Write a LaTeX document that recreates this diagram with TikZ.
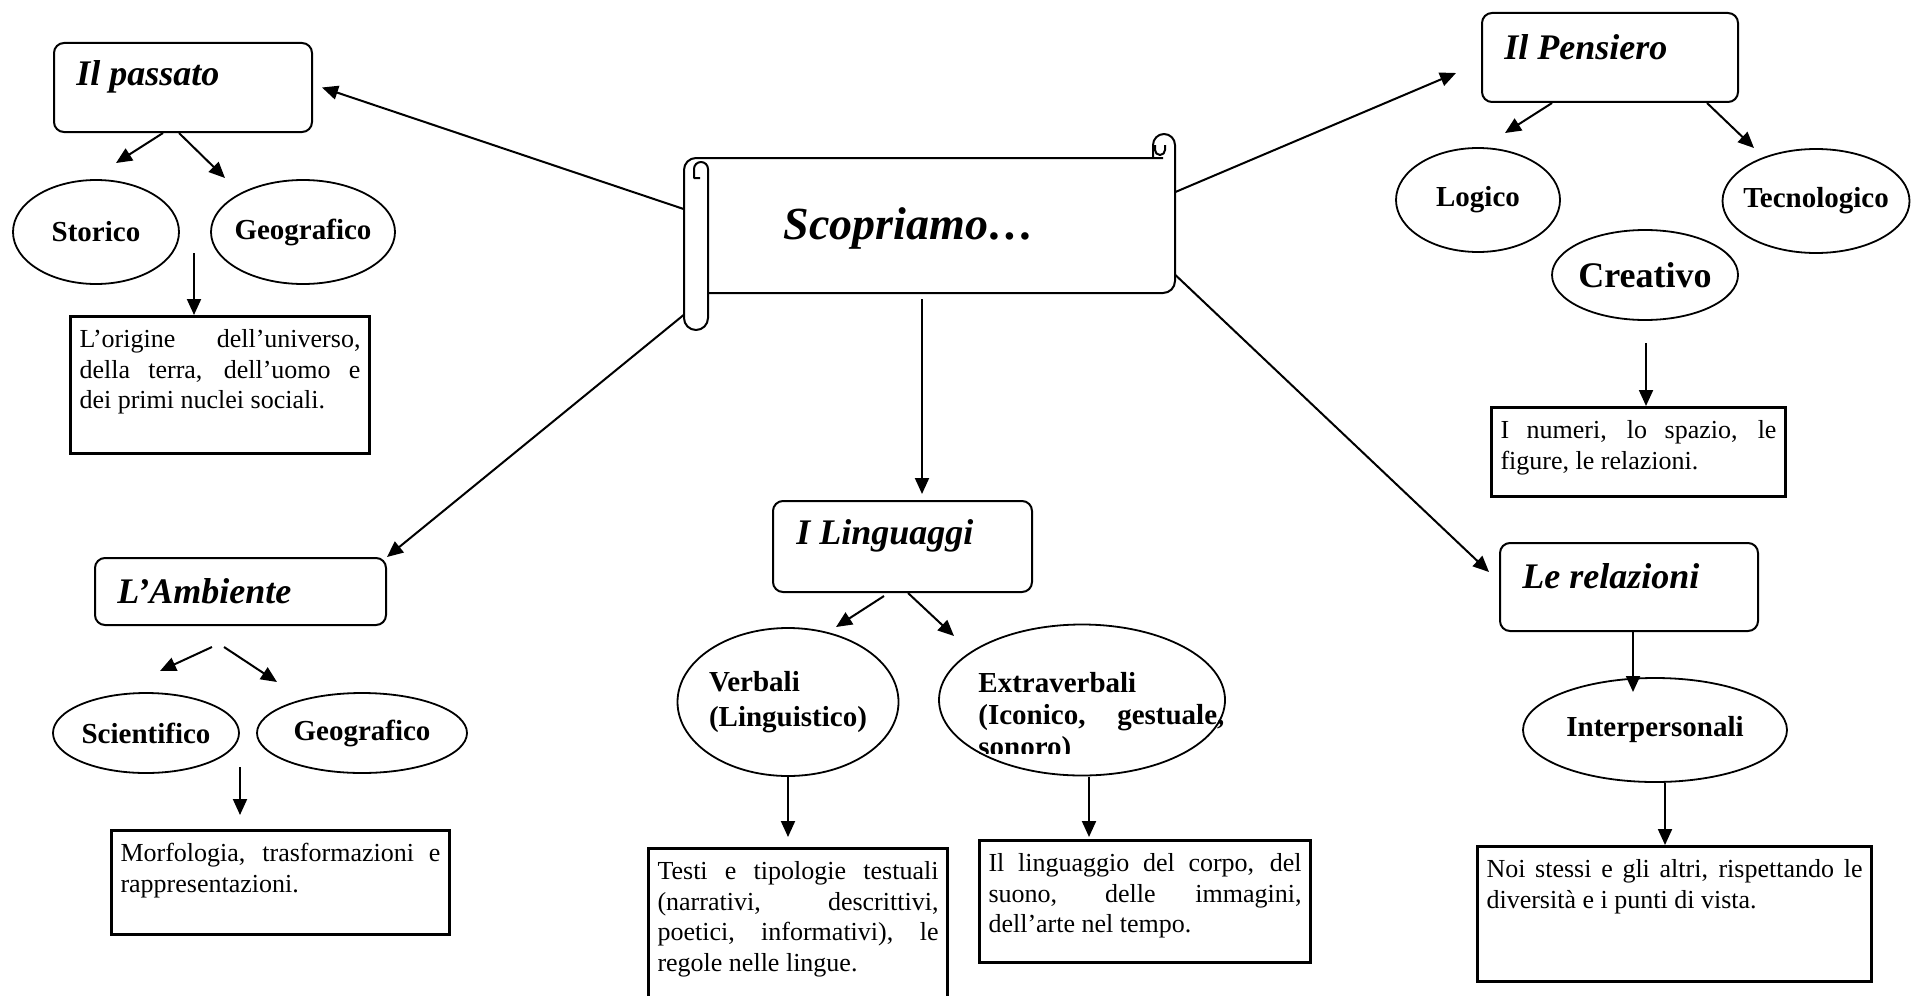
\documentclass[tikz,border=0pt]{standalone}
\usepackage{fontspec}
\setmainfont{Liberation Serif}
\usetikzlibrary{shapes.geometric,arrows.meta}
\sloppy
\hyphenpenalty=10000
\exhyphenpenalty=10000

\begin{document}
\begin{tikzpicture}[
x=0.5pt, y=-0.5pt,
titlebox/.style={draw, rounded corners=5pt, line width=1pt, inner sep=0pt},
titletext/.style={anchor=west, inner sep=0pt, font=\fontsize{18}{21}\selectfont\bfseries\itshape},
ovalnode/.style={ellipse, draw, line width=0.9pt, inner sep=-6pt, font=\fontsize{14.5}{17.5}\selectfont\bfseries},
textbox/.style={draw, line width=1.5pt, anchor=north west, align=justify, inner xsep=4.5pt, inner ysep=5.5pt, text height=10pt, font=\fontsize{13}{15.25}\selectfont},
arrowline/.style={-{Triangle[length=8pt,width=7pt]}, line width=1pt},
scrollline/.style={line width=1pt, line join=round},
]
\useasboundingbox (0,0) rectangle (1914,995);

%Scroll
\draw[scrollline] (700,178) -- (694,178) -- (694,169) arc[start angle=180, end angle=0, radius=3.5pt] -- (708,318) arc[start angle=0, end angle=-180, radius=6pt] -- (684,170) arc[start angle=180, end angle=90, radius=6pt] -- (1163,158);
\draw[scrollline] (708,293) -- (1163,293) arc[start angle=270, end angle=360, radius=6pt] -- (1175,145) arc[start angle=0, end angle=180, radius=5.5pt] -- (1153,158);
\draw[scrollline] (1155,145) -- (1155,150) arc[start angle=180, end angle=360, radius=2.5pt] -- (1165,145);
\node[minimum width=245.5pt, minimum height=68pt, inner sep=0pt] (scroll) at (929.5,225) {};
\node[font=\fontsize{23}{26}\selectfont\bfseries\itshape] (scrolltxt) at (909,228) {Scopriamo…};

%Nodes
\node[titlebox, minimum width=129pt, minimum height=44.5pt] (passato) at (183,87.5) {};
\node[titlebox, minimum width=128pt, minimum height=44.5pt] (pensiero) at (1610,57.5) {};
\node[titlebox, minimum width=145.5pt, minimum height=33.5pt] (ambiente) at (240.5,591.5) {};
\node[titlebox, minimum width=129.5pt, minimum height=45.5pt] (linguaggi) at (902.5,546.5) {};
\node[titlebox, minimum width=129pt, minimum height=44pt] (relazioni) at (1629,587) {};

\node[titletext] (passatot) at ([xshift=11.5pt,yshift=-17.5pt]passato.north west) {Il passato};
\node[titletext] (pensierot) at ([xshift=11.5pt,yshift=-17.5pt]pensiero.north west) {Il Pensiero};
\node[titletext] (ambientet) at ([xshift=11.5pt,yshift=-17pt]ambiente.north west) {L’Ambiente};
\node[titletext] (linguaggit) at ([xshift=12pt,yshift=-18pt]linguaggi.north west) {I Linguaggi};
\node[titletext] (relazionit) at ([xshift=11.5pt,yshift=-17pt]relazioni.north west) {Le relazioni};

\node[ovalnode, minimum width=83pt, minimum height=52pt] (storico) at (96,232) {Storico};
\node[ovalnode, minimum width=92pt, minimum height=52pt] (geopass) at (303,232) {Geografico};
\node[ovalnode, minimum width=82pt, minimum height=52pt] (logico) at (1478,200) {Logico};
\node[ovalnode, minimum width=93.5pt, minimum height=52pt] (tecno) at (1816,201) {Tecnologico};
\node[ovalnode, minimum width=93pt, minimum height=45pt, font=\fontsize{18}{21}\selectfont\bfseries] (creativo) at (1645,275) {Creativo};
\node[ovalnode, minimum width=93pt, minimum height=40pt] (scient) at (146,733) {Scientifico};
\node[ovalnode, minimum width=105pt, minimum height=40pt] (geoamb) at (362,733) {Geografico};
\node[ovalnode, minimum width=110.5pt, minimum height=74pt, align=left] (verbali) at (788,702) {Verbali\\(Linguistico)};
\node[ovalnode, minimum width=143pt, minimum height=75.5pt] (extra) at (1082,700) {};
\node[ovalnode, minimum width=132pt, minimum height=52pt] (interp) at (1655,730) {Interpersonali};

\begin{scope}
\clip (930,600) rectangle (1250,753);
\node[anchor=base west, inner sep=0pt, text width=123pt, align=justify, font=\fontsize{14.5}{16}\selectfont\bfseries] (extratxt) at (978,692) {Extraverbali\\(Iconico, gestuale,\linebreak sonoro)};
\end{scope}

\node[textbox, text width=140.5pt, text depth=47.5pt] (origine) at (69,315) {L’origine dell’universo,\linebreak della terra, dell’uomo e\linebreak dei primi nuclei sociali.};
\node[textbox, text width=138pt, text depth=23.5pt] (numeri) at (1490,406) {I numeri, lo spazio, le\linebreak figure, le relazioni.};
\node[textbox, text width=160pt, text depth=31pt] (morf) at (110,829) {Morfologia, trasformazioni e\linebreak rappresentazioni.};
\node[textbox, text width=140.5pt, text depth=60.5pt] (testi) at (647,847) {Testi e tipologie testuali\linebreak (narrativi, descrittivi,\linebreak poetici, informativi), le\linebreak regole nelle lingue.};
\node[textbox, text width=156.5pt, text depth=40pt] (lingbox) at (978,839) {Il linguaggio del corpo, del\linebreak suono, delle immagini,\linebreak dell’arte nel tempo.};
\node[textbox, text width=188pt, text depth=46.5pt] (noi) at (1476,845) {Noi stessi e gli altri, rispettando le\linebreak diversità e i punti di vista.};

%Lines
\coordinate (pasL) at (116,163);
\coordinate (pasR) at (225,178);
\coordinate (pasDown) at (194,253);
\coordinate (pensL) at (1505,133);
\coordinate (pensR) at (1754,148);
\coordinate (creaDown) at (1646,343);
\coordinate (ambA) at (212,647);
\coordinate (ambB) at (224,647);
\coordinate (sciTip) at (160,671);
\coordinate (geoTip) at (277,682);
\coordinate (sciDown) at (240,767);
\coordinate (scrollDown) at (922,299);
\coordinate (verbTip) at (836,627);
\coordinate (extraTip) at (954,636);
\coordinate (extraDown) at (1089,777);
\coordinate (relTip) at (1633,692);
\coordinate (interpDown) at (1665,783);

\draw[arrowline] ([yshift=8pt]scroll.west) -- ([xshift=4.5pt]passato.east);
\draw[arrowline] ([yshift=-45pt]scroll.west) -- (ambiente.north east);
\draw[arrowline, shorten >=3pt] (scrollDown) -- (scrollDown |- linguaggi.north);
\draw[arrowline] ([yshift=16.5pt]scroll.east) -- ([xshift=-12.5pt,yshift=-7.75pt]pensiero.west);
\draw[arrowline] ([yshift=-25pt]scroll.east) -- ([xshift=-5pt,yshift=7.5pt]relazioni.west);

\draw[arrowline] ([xshift=-10pt]passato.south) -- (pasL);
\draw[arrowline] ([xshift=-2pt]passato.south) -- (pasR);
\draw[arrowline] (pasDown) -- (pasDown |- origine.north);

\draw[arrowline] ([xshift=-29pt]pensiero.south) -- (pensL);
\draw[arrowline] ([xshift=48.5pt]pensiero.south) -- (pensR);
\draw[arrowline] (creaDown) -- (creaDown |- numeri.north);

\draw[arrowline] (ambA) -- (sciTip);
\draw[arrowline] (ambB) -- (geoTip);
\draw[arrowline, shorten >=7pt] (sciDown) -- (sciDown |- morf.north);

\draw[arrowline] ([xshift=-9.25pt,yshift=-1.5pt]linguaggi.south) -- (verbTip);
\draw[arrowline] ([xshift=2.75pt]linguaggi.south) -- (extraTip);
\draw[arrowline, shorten >=5pt] (verbali.south) -- (verbali.south |- testi.north);
\draw[arrowline, shorten >=1pt] (extraDown) -- (extraDown |- lingbox.north);

\draw[arrowline] ([xshift=2pt]relazioni.south) -- (relTip);
\draw[arrowline] (interpDown) -- (interpDown |- noi.north);
\end{tikzpicture}
\end{document}
